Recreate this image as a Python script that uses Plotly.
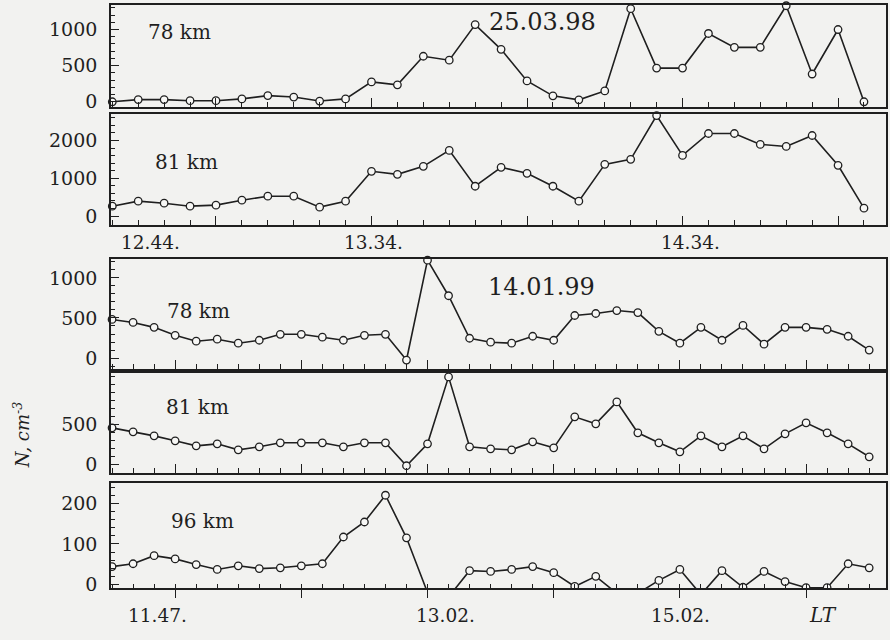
import plotly.graph_objects as go

# ---------------- data ----------------
# 25.03.98 (30 samples)
n_98_78km = [0, 30, 30, 15, 15, 40, 85, 65, 10, 40, 275, 235, 630, 575, 1068,
             726, 288, 82, 27, 150, 1288, 466, 466, 945, 753, 753, 1329, 384, 1000, 0]
n_98_81km = [263, 395, 342, 263, 290, 421, 526, 526, 237, 395, 1184, 1105, 1316, 1737, 790,
             1290, 1131, 790, 395, 1368, 1500, 2658, 1605, 2184, 2184, 1895, 1842, 2131, 1342, 210]
# 14.01.99 (37 samples)
n_99_78km = [482, 444, 383, 284, 210, 235, 185, 222, 296, 296, 260, 222, 284, 296, -25,
             1222, 778, 247, 198, 185, 272, 222, 531, 556, 593, 568, 333, 185, 383, 222,
             407, 173, 383, 383, 358, 272, 99]
n_99_81km = [462, 412, 362, 300, 237, 262, 187, 225, 275, 275, 275, 225, 275, 275, -12,
             262, 1100, 225, 200, 187, 287, 212, 600, 512, 787, 400, 275, 162, 362, 225,
             362, 200, 387, 525, 400, 262, 100]
n_99_96km = [44, 51, 71, 63, 49, 37, 46, 39, 41, 46, 51, 117, 154, 220, 115,
             -20, -31, 34, 32, 37, 44, 29, -5, 20, -22, -22, 10, 37, -25, 34,
             -7, 32, 7, -8, -8, 51, 41]

idx98 = list(range(len(n_98_78km)))
idx99 = list(range(len(n_99_78km)))

labels_98 = ["12.44.", "13.34.", "14.34."]
labels_99 = ["11.47.", "13.02.", "15.02."]
panel_names = ["78 km", "81 km", "78 km", "81 km", "96 km"]
dates = ["25.03.98", "14.01.99"]

# ---------------- layout helpers ----------------
W, H = 890, 640
L, R = 111, 886
def px(x):
    return (x - L) / (R - L)
def py(y):
    return 1 - y / H

ink = "#1f1f1f"
serif = "DejaVu Serif"

panels = [
    # (data, xidx, y-range, px top, px bottom, major y ticks, minor dy, x-range, major x ticks)
    (n_98_78km, idx98, [-70, 1340], 5, 108, [0, 500, 1000], 100, [-0.05, 29.85], [4, 10, 16, 22, 28]),
    (n_98_81km, idx98, [-222, 2706], 115, 227, [0, 1000, 2000], 200, [-0.05, 29.85], [4, 10, 16, 22, 28]),
    (n_99_78km, idx99, [-136, 1235], 262, 373, [0, 500, 1000], 100, [-0.05, 36.8], [3, 9, 15, 21, 27, 33]),
    (n_99_81km, idx99, [-100, 1150], 377, 478, [0, 500], 100, [-0.05, 36.8], [3, 9, 15, 21, 27, 33]),
    (n_99_96km, idx99, [-10, 251], 488, 595, [0, 100, 200], 20, [-0.05, 36.8], [3, 9, 15, 21, 27, 33]),
]

fig = go.Figure()
layout = {}
for i, (vals, xi, yr, top, bot, yt, ydm, xr, xmaj) in enumerate(panels):
    n = i + 1
    xa = "xaxis" if n == 1 else f"xaxis{n}"
    ya = "yaxis" if n == 1 else f"yaxis{n}"
    xref = "x" if n == 1 else f"x{n}"
    yref = "y" if n == 1 else f"y{n}"
    fig.add_trace(go.Scatter(
        x=xi, y=vals, xaxis=xref, yaxis=yref, mode="lines+markers",
        line=dict(color=ink, width=1.6),
        marker=dict(symbol="circle", size=7.5, color="#f7f7f5",
                    line=dict(color=ink, width=1.3)),
        cliponaxis=(n == 5), showlegend=False, hoverinfo="skip"))
    minor_vals = list(range(int(yr[0] // ydm) * ydm, int(yr[1]) + 1, ydm))
    layout[xa] = dict(
        domain=[0, 1], anchor=yref, range=xr, showgrid=False, zeroline=False,
        showline=True, linecolor=ink, linewidth=1.6, mirror=True,
        tickmode="array", tickvals=xmaj, showticklabels=False,
        ticks="outside" if n == 5 else "inside", ticklen=9 if n != 5 else 8,
        tickwidth=1.4, tickcolor=ink,
        minor=dict(tickmode="array", tickvals=xi, ticks="inside", ticklen=5,
                   tickwidth=1.1, tickcolor=ink, showgrid=False),
        fixedrange=True)
    layout[ya] = dict(
        domain=[py(bot), py(top)], anchor=xref, range=yr, showgrid=False, zeroline=False,
        showline=True, linecolor=ink, linewidth=1.6, mirror=True,
        tickmode="array", tickvals=yt, ticks="inside", ticklen=8, tickwidth=1.3,
        tickcolor=ink, tickfont=dict(family=serif, size=19, color=ink),
        ticklabelstandoff=8,
        minor=dict(tickmode="array", tickvals=minor_vals, ticks="inside", ticklen=4,
                   tickwidth=1.0, tickcolor=ink, showgrid=False),
        fixedrange=True)

ann = []
def add_text(text, x, y, size, italic=False, angle=0):
    ann.append(dict(text=f"<i>{text}</i>" if italic else text, x=px(x), y=py(y),
                    xref="paper", yref="paper", showarrow=False, textangle=angle,
                    font=dict(family=serif, size=size, color=ink),
                    xanchor="center", yanchor="middle"))

name_pos = [(179, 32), (186, 164), (198, 314), (197, 412), (202, 527)]
for name, (x, y) in zip(panel_names, name_pos):
    add_text(name, x, y, 20)
add_text(dates[0], 542, 22, 24)
add_text(dates[1], 541, 290, 24)
for lab, x in zip(labels_98, [150, 373, 690]):
    add_text(lab, x, 245, 18.5)
for lab, x in zip(labels_99, [157, 445, 680]):
    add_text(lab, x, 622, 18.5)
add_text("LT", 823, 622, 20, italic=True)
add_text("N, cm<sup>-3</sup>", 22, 440, 18, italic=True, angle=-90)

fig.update_layout(
    width=W, height=H, margin=dict(l=L, r=W - R, t=0, b=0),
    paper_bgcolor="#f2f2f0", plot_bgcolor="#f2f2f0",
    annotations=ann, **layout)

fig.write_html("out.html")
